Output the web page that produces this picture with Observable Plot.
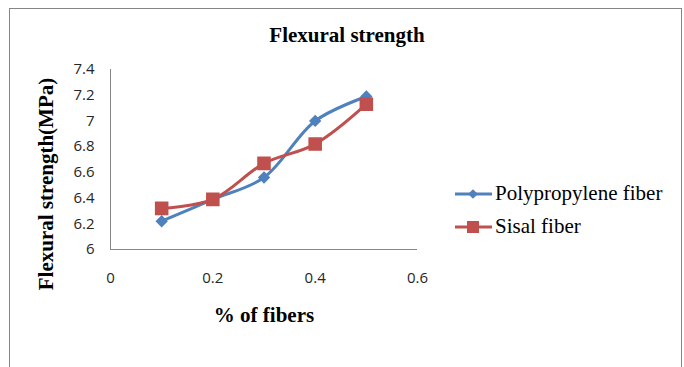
<!DOCTYPE html>
<html>
<head>
<meta charset="utf-8">
<script src="https://cdn.jsdelivr.net/npm/d3@7"></script>
<script src="https://cdn.jsdelivr.net/npm/@observablehq/plot@0.6"></script>
<style>
  html, body { margin: 0; padding: 0; background: #fff; }
</style>
</head>
<body>
<div id="chart"></div>
<script>
const fibers = [0.1, 0.2, 0.3, 0.4, 0.5];
const polypropylene = [6.22, 6.39, 6.56, 7.0, 7.19];
const sisal = [6.32, 6.39, 6.67, 6.82, 7.13];
const seriesNames = ["Polypropylene fiber", "Sisal fiber"];
const xTicks = [0, 0.2, 0.4, 0.6];
const yTicks = [6, 6.2, 6.4, 6.6, 6.8, 7, 7.2, 7.4];

const blue = "#4F81BD", red = "#C0504D";
const ppData = fibers.map((x, i) => ({x, y: polypropylene[i]}));
const sisalData = fibers.map((x, i) => ({x, y: sisal[i]}));

const serif = "'Liberation Serif', 'DejaVu Serif', serif";
const sans = "'Open Sans', 'Noto Sans', sans-serif";

const plot = Plot.plot({
  width: 684,
  height: 367,
  marginLeft: 110,
  marginRight: 267,
  marginTop: 69,
  marginBottom: 118,
  style: {background: "#fff", fontFamily: sans, fontSize: "15px", color: "#262626"},
  x: {domain: [0, 0.6]},
  y: {domain: [6, 7.4]},
  marks: [
    Plot.axisY({ticks: yTicks, tickSize: 0, tickPadding: 16, tickFormat: d => String(d), label: null, fontSize: 15, fill: "#262626"}),
    Plot.axisX({ticks: xTicks, tickSize: 0, tickPadding: 23, tickFormat: d => String(d), label: null, fontSize: 15, fill: "#262626"}),
    Plot.ruleX([0], {stroke: "#868686", strokeWidth: 1}),
    Plot.ruleY([6], {stroke: "#868686", strokeWidth: 1}),
    Plot.line(ppData, {x: "x", y: "y", stroke: blue, strokeWidth: 3, curve: "catmull-rom"}),
    Plot.dot(ppData, {x: "x", y: "y", symbol: "diamond2", r: 4.6, fill: blue, stroke: blue}),
    Plot.line(sisalData, {x: "x", y: "y", stroke: red, strokeWidth: 3, curve: "catmull-rom"}),
    Plot.dot(sisalData, {x: "x", y: "y", symbol: "square", r: 6.8, fill: red, stroke: red})
  ]
});
document.getElementById("chart").appendChild(plot);

const svg = d3.select(plot);
svg.selectAll('g[aria-label$="tick label"]').attr("font-size", 15).style("font-size", "15px");

// outer border
svg.insert("rect", ":first-child")
  .attr("x", 9.5).attr("y", 8.5).attr("width", 672).attr("height", 370)
  .attr("fill", "#fff").attr("stroke", "#868686");

const addText = (x, y, txt, opts = {}) => svg.append("text")
  .attr("x", x).attr("y", y)
  .attr("text-anchor", opts.anchor || "middle")
  .attr("font-family", serif)
  .attr("font-weight", opts.bold === false ? "normal" : "bold")
  .attr("font-size", opts.size || 21)
  .attr("fill", "#000")
  .attr("transform", opts.transform || null)
  .text(txt);

// title
addText(347, 42, "Flexural strength");
// y label
addText(0, 0, "Flexural strength(MPa)", {transform: "translate(53,184) rotate(-90)"});
// x label
addText(264, 322, "% of fibers");

// legend
const items = [{name: seriesNames[0], color: blue, sym: "diamond"}, {name: seriesNames[1], color: red, sym: "square"}];
items.forEach((it, i) => {
  const cy = 194 + i * 33;
  const g = svg.append("g");
  g.append("line").attr("x1", 455).attr("x2", 492).attr("y1", cy).attr("y2", cy)
    .attr("stroke", it.color).attr("stroke-width", 3);
  if (it.sym === "diamond") {
    g.append("path").attr("d", d3.symbol(d3.symbolDiamond2, 60)()).attr("transform", `translate(473,${cy})`).attr("fill", it.color);
  } else {
    g.append("rect").attr("x", 467).attr("y", cy - 6).attr("width", 12).attr("height", 12).attr("fill", it.color);
  }
  addText(495, cy + 6, it.name, {anchor: "start", bold: false});
});
</script>
</body>
</html>
